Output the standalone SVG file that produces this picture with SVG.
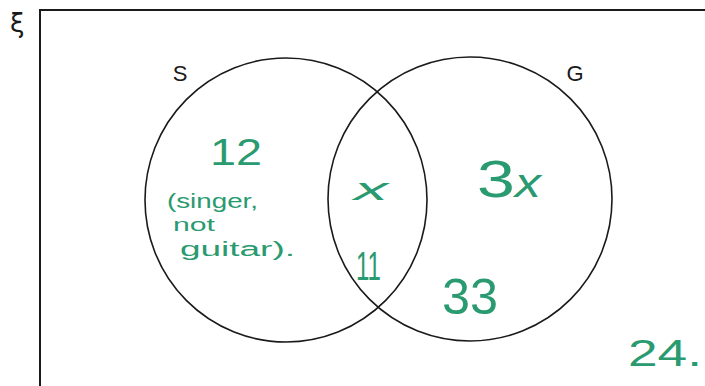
<svg xmlns="http://www.w3.org/2000/svg" width="705" height="386" viewBox="0 0 705 386">
<style>
.set{fill:none;stroke:#1a1a1a;stroke-width:1.6}
.lbl{font-family:"Liberation Sans",Arial,sans-serif;font-size:22px;fill:#1a1a1a}
.hw{font-family:"Liberation Sans",Arial,sans-serif;fill:#2a9a70}
</style>
<rect width="705" height="386" fill="#ffffff"/>
<g id="universe">
<rect x="40" y="10" width="700" height="420" fill="none" stroke="#1a1a1a" stroke-width="2"/>
<text x="10" y="32" font-family="DejaVu Sans,sans-serif" font-size="26" fill="#1a1a1a">ξ</text>
</g>
<g id="set-S">
<ellipse class="set" cx="286" cy="200" rx="141" ry="142"/>
<text class="lbl" x="180" y="81" text-anchor="middle">S</text>
</g>
<g id="set-G">
<ellipse class="set" cx="470" cy="199" rx="142" ry="142"/>
<text class="lbl" x="575" y="81" text-anchor="middle">G</text>
</g>
<g id="region-S-only">
<text class="hw" x="210" y="165" font-size="36" textLength="52" lengthAdjust="spacingAndGlyphs">12</text>
<text class="hw" x="167" y="208" font-size="20" textLength="91" lengthAdjust="spacingAndGlyphs">(singer,</text>
<text class="hw" x="173" y="231" font-size="18" textLength="42" lengthAdjust="spacingAndGlyphs">not</text>
<text class="hw" x="180" y="256" font-size="20" textLength="115" lengthAdjust="spacingAndGlyphs">guitar).</text>
</g>
<g id="region-intersection">
<text class="hw" x="354" y="200" font-size="32" font-style="italic" textLength="34" lengthAdjust="spacingAndGlyphs">x</text>
<text class="hw" x="356" y="280" font-size="40" textLength="25" lengthAdjust="spacingAndGlyphs">11</text>
</g>
<g id="region-G-only">
<text class="hw" x="477" y="197" font-size="52" textLength="64" lengthAdjust="spacingAndGlyphs">3<tspan font-style="italic" font-size="40">x</tspan></text>
<text class="hw" x="442" y="314" font-size="50" textLength="56" lengthAdjust="spacingAndGlyphs">33</text>
</g>
<g id="region-outside">
<text class="hw" x="628" y="366" font-size="36" textLength="74" lengthAdjust="spacingAndGlyphs">24.</text>
</g>
<g id="connectors"></g>
</svg>
